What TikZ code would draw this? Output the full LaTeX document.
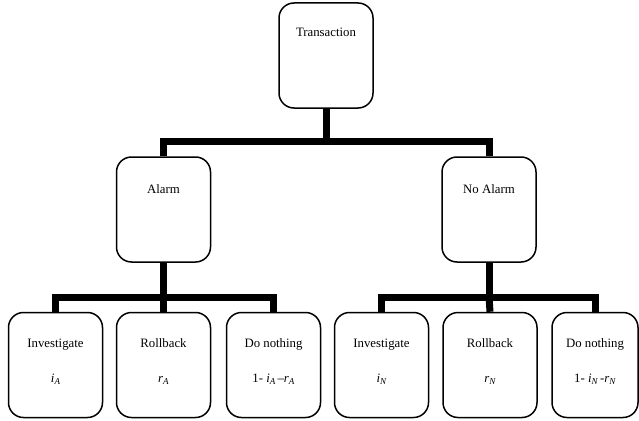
\documentclass[tikz,border=0pt]{standalone}
\usepackage{fontspec}
\setmainfont{Liberation Serif}
\newcommand\sbx[2]{\textit{#1}\raisebox{-.4ex}{\fontsize{9}{9}\selectfont\textit{#2}}}
\begin{document}
\begin{tikzpicture}[x=1pt,y=-1pt,
  box/.style={draw, line width=1.5pt, rounded corners=15pt, minimum width=94pt, minimum height=105pt, inner sep=0pt},
  lbl/.style={anchor=base, inner sep=0pt, font=\fontsize{12.8}{15}\selectfont},
  conn/.style={line width=7pt, line join=miter}]
\useasboundingbox (0,0) rectangle (639,420);
\node[box] (t) at (326,55.5) {};
\node[box] (a) at (163.5,209.5) {};
\node[box] (n) at (489,209.5) {};
\node[box] (a1) at (55.5,365) {};
\node[box] (a2) at (163.5,365) {};
\node[box] (a3) at (273.5,365) {};
\node[box] (n1) at (381.5,365) {};
\node[box] (n2) at (490,365) {};
\node[box, minimum width=86pt] (n3) at (595,365) {};
% labels
\node[lbl] (tl) at (326,37) {Transaction};
\node[lbl] (al) at (163.5,193) {Alarm};
\node[lbl] (nl) at (489,193) {No Alarm};
\node[lbl] (a1l) at (55.5,347) {Investigate};
\node[lbl] (a2l) at (163.5,347) {Rollback};
\node[lbl] (a3l) at (273.5,347) {Do nothing};
\node[lbl] (n1l) at (381.5,347) {Investigate};
\node[lbl] (n2l) at (490,347) {Rollback};
\node[lbl] (n3l) at (595,347) {Do nothing};
\node[lbl] (a1v) at (55.5,382) {\sbx{i}{A}};
\node[lbl] (a2v) at (163.5,382) {\sbx{r}{A}};
\node[lbl] (a3v) at (273.5,382) {1- \sbx{i}{A}\,–\sbx{r}{A}};
\node[lbl] (n1v) at (381.5,382) {\sbx{i}{N}};
\node[lbl] (n2v) at (490,382) {\sbx{r}{N}};
\node[lbl] (n3v) at (595,382) {1- \sbx{i}{N}\,-\sbx{r}{N}};
% connectors
\coordinate (j0) at (326,141);
\coordinate (j1) at (163.5,297);
\coordinate (j2) at (489,297);
\draw[conn] (t.south) -- (j0);
\draw[conn] (a.north) |- (j0) -| (n.north);
\draw[conn] (a.south) -- (j1);
\draw[conn] (a1.north) |- (j1) -| (a3.north);
\draw[conn] (j1) -- (a2.north);
\draw[conn] (n.south) -- (j2);
\draw[conn] (n1.north) |- (j2) -| (n3.north);
\draw[conn] (j2) -- (n2.north);
\end{tikzpicture}
\end{document}
